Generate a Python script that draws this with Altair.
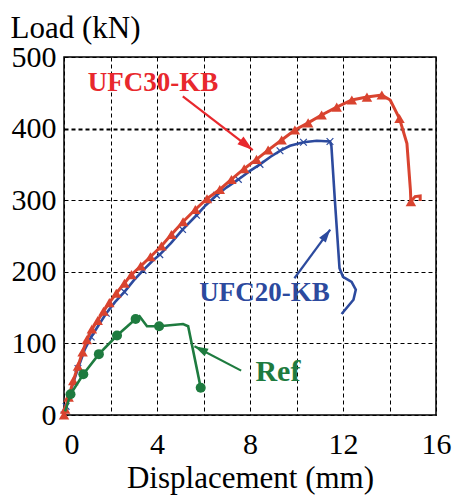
import altair as alt
import pandas as pd

# ---------------- data ----------------
ufc30_x = [0.00, 0.05, 0.20, 0.40, 0.60, 0.80, 0.98, 1.20, 1.45, 1.70, 1.95, 2.25, 2.60, 2.90,
           3.30, 3.72, 4.19, 4.62, 5.12, 5.65, 6.15, 6.70, 7.20, 7.75, 8.28, 8.78, 9.36, 9.93,
           10.50, 11.08, 11.73, 12.38, 13.03, 13.67, 14.03, 14.43, 14.75, 14.90, 14.92, 15.10,
           15.32, 15.32]
ufc30_y = [0, 8, 25, 48, 68, 88, 105, 120, 132, 145, 157, 170, 184, 196,
           208, 221, 236, 252, 270, 287, 302, 315, 329, 344, 357, 370, 384, 398,
           408, 419, 430, 440, 444, 447, 440, 414, 379, 314, 298, 305,
           306, 299]
ufc30_mark = [1, 1, 1, 1, 1, 1, 1, 1, 1, 1, 1, 1, 1, 1,
              1, 1, 1, 1, 1, 1, 1, 1, 1, 1, 1, 1, 1, 1,
              1, 1, 1, 1, 1, 1, 0, 1, 0, 0, 1, 0,
              0, 0]

ufc20_x = [0.00, 0.09, 0.35, 0.60, 0.90, 1.17, 1.50, 1.82, 2.20, 2.60, 3.00, 3.40, 3.80, 4.12,
           4.60, 5.10, 5.70, 6.10, 6.56, 7.00, 7.50, 8.00, 8.43, 8.90, 9.29, 9.72, 10.30, 10.87,
           11.44, 11.50, 11.65, 11.85, 12.00, 12.37, 12.55, 12.45, 11.94]
ufc20_y = [0, 12, 40, 65, 92, 109, 126, 142, 158, 172, 188, 202, 215, 224,
           240, 259, 279, 293, 307, 318, 329, 341, 350, 361, 369, 376, 381, 383,
           382, 376, 300, 205, 193, 186, 175, 161, 141]
ufc20_mark = [1, 1, 0, 1, 0, 1, 0, 1, 0, 1, 0, 1, 0, 1,
              0, 1, 1, 0, 1, 0, 1, 0, 1, 0, 1, 0, 1, 0,
              1, 0, 0, 0, 0, 0, 0, 0, 0]

ref_x = [0.05, 0.28, 0.83, 1.50, 2.28, 3.08, 3.25, 3.57, 4.09, 5.12, 5.34, 5.88]
ref_y = [5, 29, 57, 85, 111, 134, 138, 124, 124, 127, 124, 38]
ref_mark = [0, 1, 1, 1, 1, 1, 0, 0, 1, 0, 0, 1]

labels = ["UFC30-KB", "UFC20-KB", "Ref"]
label_x = [3.83, 8.62, 9.20]
label_y = [464, 170, 60]
label_size = [27, 27, 30]

arrow_x = [5.11, 9.91, 7.62]
arrow_y = [445, 191, 62]
arrow_tip_x = [8.12, 11.45, 5.61]
arrow_tip_y = [370, 259, 96]
arrow_angle = [128, 36, 297]
arrow_size = [170, 120, 130]

RED = "#D9432F"
RED_TXT = "#E8282D"
BLUE = "#2C4A9E"
GREEN = "#1E7B3F"
FONT = "Liberation Serif"


def frame(xs, ys, ms, name):
    return pd.DataFrame({"x": xs, "y": ys, "m": ms, "i": list(range(len(xs))), "s": name})


d30 = frame(ufc30_x, ufc30_y, ufc30_mark, "UFC30-KB")
d20 = frame(ufc20_x, ufc20_y, ufc20_mark, "UFC20-KB")
dref = frame(ref_x, ref_y, ref_mark, "Ref")

xscale = alt.Scale(domain=[0, 16], nice=False, zero=False)
yscale = alt.Scale(domain=[0, 500], nice=False, zero=False)

xaxis = alt.Axis(
    values=list(range(0, 17, 2)),
    labelExpr="datum.value % 4 == 0 ? datum.label : ''",
    grid=True, gridDash=[4, 3], gridColor="black", gridWidth=1, gridOpacity=1,
    ticks=False, tickSize=0, domain=False,
    labelFont=FONT, labelFontSize=30, labelColor="black", labelPadding=14,
    labelFlush=False, labelOverlap=False,
    labelAlign=alt.expr("datum.value == 0 ? 'left' : 'center'"),
    title="Displacement (mm)", titleFont=FONT, titleFontSize=31, titleFontWeight="normal",
    titleColor="black", titleX=186, titleY=72, titleAlign="center", titleBaseline="alphabetic",
)
yaxis = alt.Axis(
    values=list(range(0, 501, 100)),
    grid=True, gridDash=[4, 3], gridColor="black", gridOpacity=1,
    gridWidth=alt.expr("datum.value == 400 ? 2.2 : 1"),
    ticks=False, tickSize=0, domain=False,
    labelFont=FONT, labelFontSize=30, labelColor="black", labelPadding=8,
    labelOverlap=False, labelFlush=False,
    title="Load (kN)", titleFont=FONT, titleFontSize=31, titleFontWeight="normal",
    titleColor="black", titleAngle=0, titleAlign="left", titleBaseline="alphabetic",
    titleX=-54, titleY=-20,
)


def line_layer(df, color, width):
    return alt.Chart(df).mark_line(color=color, strokeWidth=width).encode(
        x=alt.X("x:Q", scale=xscale, axis=xaxis),
        y=alt.Y("y:Q", scale=yscale, axis=yaxis),
        order="i:Q",
    )


def point_layer(df, **kw):
    return alt.Chart(df).transform_filter("datum.m == 1").mark_point(**kw).encode(
        x=alt.X("x:Q", scale=xscale, axis=xaxis),
        y=alt.Y("y:Q", scale=yscale, axis=yaxis),
    )


blue_line = line_layer(d20, BLUE, 2.6)
blue_pts = point_layer(d20, shape="M-1,-1L1,1M-1,1L1,-1", filled=False, color=BLUE,
                       strokeWidth=1.2, size=45, opacity=1)
red_line = line_layer(d30, RED, 3)
red_pts = point_layer(d30, shape="triangle-up", filled=True, color=RED, size=110, opacity=1)
green_line = line_layer(dref, GREEN, 2.6)
green_pts = point_layer(dref, shape="circle", filled=True, color=GREEN, size=100, opacity=1)

ann = pd.DataFrame({
    "t": labels, "x": label_x, "y": label_y, "fs": label_size,
    "x0": arrow_x, "y0": arrow_y, "x1": arrow_tip_x, "y1": arrow_tip_y, "ang": arrow_angle,
    "hs": arrow_size, "c": [RED_TXT, BLUE, GREEN],
})

texts = alt.Chart(ann).mark_text(font=FONT, fontWeight="bold", baseline="middle", align="center").encode(
    x=alt.X("x:Q", scale=xscale, axis=xaxis), y=alt.Y("y:Q", scale=yscale, axis=yaxis),
    text="t:N", color=alt.Color("c:N", scale=None), size=alt.Size("fs:Q", scale=None),
)
arrows = alt.Chart(ann).mark_rule(strokeWidth=2.2).encode(
    x=alt.X("x0:Q", scale=xscale, axis=xaxis), y=alt.Y("y0:Q", scale=yscale, axis=yaxis),
    x2="x1:Q", y2="y1:Q", color=alt.Color("c:N", scale=None),
)
heads = alt.Chart(ann).mark_point(shape="M0,0L-0.75,2.4L0.75,2.4Z", filled=True, opacity=1).encode(
    x=alt.X("x1:Q", scale=xscale, axis=xaxis), y=alt.Y("y1:Q", scale=yscale, axis=yaxis),
    angle=alt.Angle("ang:Q", scale=None), color=alt.Color("c:N", scale=None),
    size=alt.Size("hs:Q", scale=None),
)

chart = alt.layer(
    blue_line, blue_pts, red_line, red_pts, green_line, green_pts, arrows, heads, texts
).properties(
    width=372, height=358,
    autosize=alt.AutoSizeParams(type="none"),
    padding={"left": 64, "top": 57, "right": 18, "bottom": 81},
    background="white",
).configure_view(
    stroke="black", strokeWidth=1.5
).configure_axis(
    labelFont=FONT, titleFont=FONT, labelColor="black", titleColor="black"
).configure_text(font=FONT)

chart.save("out.html", embed_options={"renderer": "svg", "actions": False})
